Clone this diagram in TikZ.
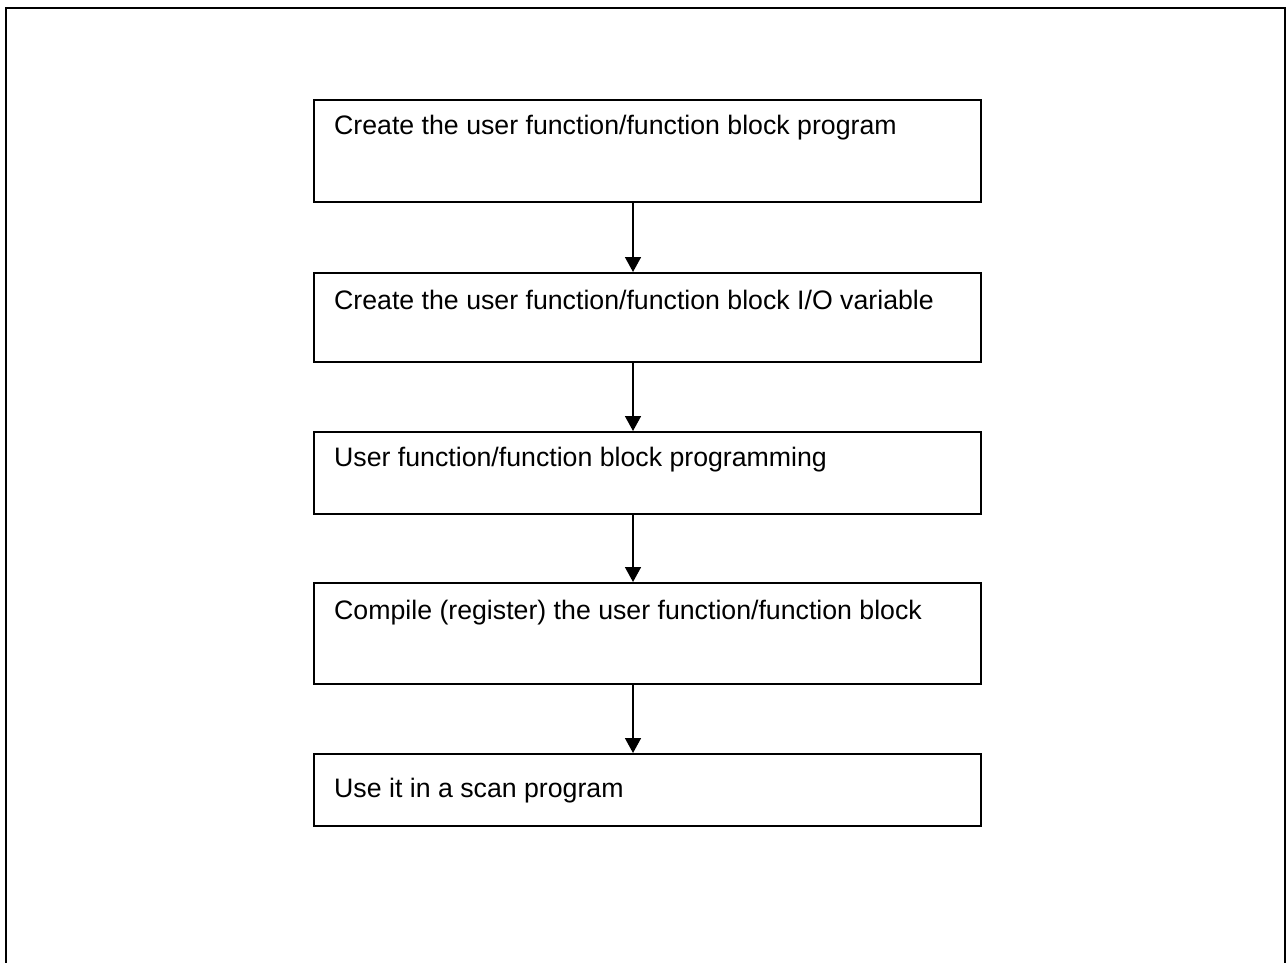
\documentclass[tikz,border=0pt]{standalone}
\usepackage{fontspec}
\setmainfont{Liberation Sans}
\usetikzlibrary{arrows.meta}
\begin{document}
\begin{tikzpicture}[x=1pt,y=-1pt,
  stepbox/.style={draw=black,line width=2.2pt,rectangle,minimum width=667pt,inner sep=0pt,anchor=north west},
  steptext/.style={anchor=base west,inner sep=0pt,font=\fontsize{26.7}{30}\selectfont},
  flow/.style={line width=1.6pt,-{Triangle[length=15pt,width=16pt]}}]
\useasboundingbox (0,0) rectangle (1287,963);
\draw[line width=2.4pt] (6,1000) -- (6,8) -- (1285,8) -- (1285,1000);
\node[stepbox,minimum height=102pt] (b1) at (313,99) {};
\node[stepbox,minimum height=89pt] (b2) at (313,272) {};
\node[stepbox,minimum height=82pt] (b3) at (313,431) {};
\node[stepbox,minimum height=101pt] (b4) at (313,582) {};
\node[stepbox,minimum height=72pt] (b5) at (313,753) {};
\node[steptext] (t1) at (334,135) {Create the user function/function block program};
\node[steptext] (t2) at (334,309) {Create the user function/function block I/O variable};
\node[steptext] (t3) at (334,466) {User function/function block programming};
\node[steptext] (t4) at (334,619) {Compile (register) the user function/function block};
\node[steptext] (t5) at (334,797) {Use it in a scan program};
\draw[flow] (b1.south -| 633,0) -- (b2.north -| 633,0);
\draw[flow] (b2.south -| 633,0) -- (b3.north -| 633,0);
\draw[flow] (b3.south -| 633,0) -- (b4.north -| 633,0);
\draw[flow] (b4.south -| 633,0) -- (b5.north -| 633,0);
\end{tikzpicture}
\end{document}
